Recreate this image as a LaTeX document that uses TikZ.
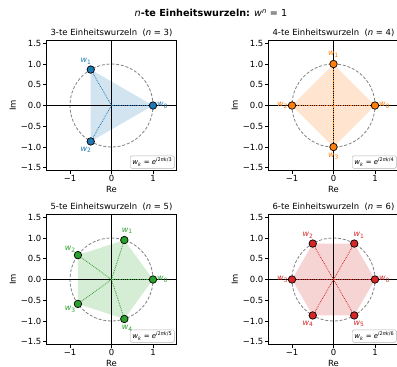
\documentclass[tikz,border=0pt]{standalone}
\usepackage{fontspec}
\setmainfont{DejaVu Sans}
\usepackage{tikz}

\definecolor{tabblue}{HTML}{1F77B4}
\definecolor{taborange}{HTML}{FF7F0E}
\definecolor{tabgreen}{HTML}{2CA02C}
\definecolor{tabred}{HTML}{D62728}
\newcommand{\wl}[1]{\textit{w}\textsubscript{#1}}
\newcommand{\wformel}[1]{\textit{w}\textsubscript{\textit{k}} = \textit{e}\textsuperscript{\textit{i}2\textit{πk}/#1}}

\begin{document}
\begin{tikzpicture}[x=1bp, y=-1bp,
  every node/.style={font=\fontsize{8.5}{10}\selectfont},
  frame/.style={line width=0.8bp, black},
  axisline/.style={line width=1.1bp, black},
  unitcirc/.style={gray, dash pattern=on 3bp off 1.8bp, line width=0.8bp},
  spoke/.style={densely dotted, line width=0.8bp},
  root/.style={circle, draw=black, line width=0.7bp, minimum size=7.5bp, inner sep=0pt},
  wlab/.style={font=\fontsize{8}{9}\selectfont, inner sep=0pt},
  formel/.style={draw=gray!60, fill=white, rounded corners=1.5bp, inner sep=2.2bp,
    anchor=south east, font=\fontsize{7}{8}\selectfont},
  ticklab/.style={inner sep=1.5bp}]
  \useasboundingbox (0,0) rectangle (397,367);
  \node (sup) at (211,13) {\fontsize{9.7}{11}\selectfont\textit{n}\textbf{-te Einheitswurzeln:} \textit{w}\textsuperscript{\textit{n}} = 1};

  % n = 3
  \begin{scope}[shift={(111.5,105.5)}, x=41.5bp, y=41.5bp]
    \fill[tabblue!20] (0:1) -- (120:1) -- (240:1) -- cycle;
    \draw[unitcirc] (0,0) circle (1);
    \draw[axisline] (-1.56,0) -- (1.56,0);
    \draw[axisline] (0,-1.56) -- (0,1.56);
    \coordinate (o3) at (0,0);
    \node[root, fill=tabblue] (p30) at (0:1) {};
    \node[root, fill=tabblue] (p31) at (120:1) {};
    \node[root, fill=tabblue] (p32) at (240:1) {};
    \draw[spoke, tabblue] (o3) -- (p30);
    \draw[spoke, tabblue] (o3) -- (p31);
    \draw[spoke, tabblue] (o3) -- (p32);
    \node[wlab, text=tabblue] (l30) at (0:1.23) {\wl{0}};
    \node[wlab, text=tabblue] (l31) at (120:1.23) {\wl{1}};
    \node[wlab, text=tabblue] (l32) at (240:1.23) {\wl{2}};
    \draw[frame] (-1.56,-1.56) rectangle (1.56,1.56);
    \foreach \t/\s [count=\i] in {-1/−1, 0/0, 1/1}
      \draw[frame] (\t,-1.56) -- ++(0,-3.5bp) node[below, ticklab] (x3-\i) {\s};
    \foreach \t/\s [count=\i] in {-1.5/−1.5, -1/−1.0, -0.5/−0.5, 0/0.0, 0.5/0.5, 1/1.0, 1.5/1.5}
      \draw[frame] (-1.56,\t) -- ++(-3.5bp,0) node[left, ticklab] (y3-\i) {\s};
    \node (re3) at ([yshift=-19bp]0,-1.56) {Re};
    \node[rotate=90] (im3) at ([xshift=-34bp]-1.56,0) {Im};
    \node (t3) at ([yshift=8bp]0,1.56) {3-te Einheitswurzeln\ \ (\textit{n} = 3)};
    \node[formel] (f3) at (1.52,-1.52) {\wformel{3}};
  \end{scope}

  % n = 4
  \begin{scope}[shift={(333.5,105.5)}, x=41.5bp, y=41.5bp]
    \fill[taborange!20] (0:1) -- (90:1) -- (180:1) -- (270:1) -- cycle;
    \draw[unitcirc] (0,0) circle (1);
    \draw[axisline] (-1.56,0) -- (1.56,0);
    \draw[axisline] (0,-1.56) -- (0,1.56);
    \coordinate (o4) at (0,0);
    \node[root, fill=taborange] (p40) at (0:1) {};
    \node[root, fill=taborange] (p41) at (90:1) {};
    \node[root, fill=taborange] (p42) at (180:1) {};
    \node[root, fill=taborange] (p43) at (270:1) {};
    \draw[spoke, taborange] (o4) -- (p40);
    \draw[spoke, taborange] (o4) -- (p41);
    \draw[spoke, taborange] (o4) -- (p42);
    \draw[spoke, taborange] (o4) -- (p43);
    \node[wlab, text=taborange] (l40) at (0:1.23) {\wl{0}};
    \node[wlab, text=taborange] (l41) at (90:1.23) {\wl{1}};
    \node[wlab, text=taborange] (l42) at (180:1.23) {\wl{2}};
    \node[wlab, text=taborange] (l43) at (270:1.23) {\wl{3}};
    \draw[frame] (-1.56,-1.56) rectangle (1.56,1.56);
    \foreach \t/\s [count=\i] in {-1/−1, 0/0, 1/1}
      \draw[frame] (\t,-1.56) -- ++(0,-3.5bp) node[below, ticklab] (x4-\i) {\s};
    \foreach \t/\s [count=\i] in {-1.5/−1.5, -1/−1.0, -0.5/−0.5, 0/0.0, 0.5/0.5, 1/1.0, 1.5/1.5}
      \draw[frame] (-1.56,\t) -- ++(-3.5bp,0) node[left, ticklab] (y4-\i) {\s};
    \node (re4) at ([yshift=-19bp]0,-1.56) {Re};
    \node[rotate=90] (im4) at ([xshift=-34bp]-1.56,0) {Im};
    \node (t4) at ([yshift=8bp]0,1.56) {4-te Einheitswurzeln\ \ (\textit{n} = 4)};
    \node[formel] (f4) at (1.52,-1.52) {\wformel{4}};
  \end{scope}

  % n = 5
  \begin{scope}[shift={(111.5,279.5)}, x=41.5bp, y=41.5bp]
    \fill[tabgreen!20] (0:1) -- (72:1) -- (144:1) -- (216:1) -- (288:1) -- cycle;
    \draw[unitcirc] (0,0) circle (1);
    \draw[axisline] (-1.56,0) -- (1.56,0);
    \draw[axisline] (0,-1.56) -- (0,1.56);
    \coordinate (o5) at (0,0);
    \node[root, fill=tabgreen] (p50) at (0:1) {};
    \node[root, fill=tabgreen] (p51) at (72:1) {};
    \node[root, fill=tabgreen] (p52) at (144:1) {};
    \node[root, fill=tabgreen] (p53) at (216:1) {};
    \node[root, fill=tabgreen] (p54) at (288:1) {};
    \draw[spoke, tabgreen] (o5) -- (p50);
    \draw[spoke, tabgreen] (o5) -- (p51);
    \draw[spoke, tabgreen] (o5) -- (p52);
    \draw[spoke, tabgreen] (o5) -- (p53);
    \draw[spoke, tabgreen] (o5) -- (p54);
    \node[wlab, text=tabgreen] (l50) at (0:1.23) {\wl{0}};
    \node[wlab, text=tabgreen] (l51) at (72:1.23) {\wl{1}};
    \node[wlab, text=tabgreen] (l52) at (144:1.23) {\wl{2}};
    \node[wlab, text=tabgreen] (l53) at (216:1.23) {\wl{3}};
    \node[wlab, text=tabgreen] (l54) at (288:1.23) {\wl{4}};
    \draw[frame] (-1.56,-1.56) rectangle (1.56,1.56);
    \foreach \t/\s [count=\i] in {-1/−1, 0/0, 1/1}
      \draw[frame] (\t,-1.56) -- ++(0,-3.5bp) node[below, ticklab] (x5-\i) {\s};
    \foreach \t/\s [count=\i] in {-1.5/−1.5, -1/−1.0, -0.5/−0.5, 0/0.0, 0.5/0.5, 1/1.0, 1.5/1.5}
      \draw[frame] (-1.56,\t) -- ++(-3.5bp,0) node[left, ticklab] (y5-\i) {\s};
    \node (re5) at ([yshift=-19bp]0,-1.56) {Re};
    \node[rotate=90] (im5) at ([xshift=-34bp]-1.56,0) {Im};
    \node (t5) at ([yshift=8bp]0,1.56) {5-te Einheitswurzeln\ \ (\textit{n} = 5)};
    \node[formel] (f5) at (1.52,-1.52) {\wformel{5}};
  \end{scope}

  % n = 6
  \begin{scope}[shift={(333.5,279.5)}, x=41.5bp, y=41.5bp]
    \fill[tabred!20] (0:1) -- (60:1) -- (120:1) -- (180:1) -- (240:1) -- (300:1) -- cycle;
    \draw[unitcirc] (0,0) circle (1);
    \draw[axisline] (-1.56,0) -- (1.56,0);
    \draw[axisline] (0,-1.56) -- (0,1.56);
    \coordinate (o6) at (0,0);
    \node[root, fill=tabred] (p60) at (0:1) {};
    \node[root, fill=tabred] (p61) at (60:1) {};
    \node[root, fill=tabred] (p62) at (120:1) {};
    \node[root, fill=tabred] (p63) at (180:1) {};
    \node[root, fill=tabred] (p64) at (240:1) {};
    \node[root, fill=tabred] (p65) at (300:1) {};
    \draw[spoke, tabred] (o6) -- (p60);
    \draw[spoke, tabred] (o6) -- (p61);
    \draw[spoke, tabred] (o6) -- (p62);
    \draw[spoke, tabred] (o6) -- (p63);
    \draw[spoke, tabred] (o6) -- (p64);
    \draw[spoke, tabred] (o6) -- (p65);
    \node[wlab, text=tabred] (l60) at (0:1.23) {\wl{0}};
    \node[wlab, text=tabred] (l61) at (60:1.23) {\wl{1}};
    \node[wlab, text=tabred] (l62) at (120:1.23) {\wl{2}};
    \node[wlab, text=tabred] (l63) at (180:1.23) {\wl{3}};
    \node[wlab, text=tabred] (l64) at (240:1.23) {\wl{4}};
    \node[wlab, text=tabred] (l65) at (300:1.23) {\wl{5}};
    \draw[frame] (-1.56,-1.56) rectangle (1.56,1.56);
    \foreach \t/\s [count=\i] in {-1/−1, 0/0, 1/1}
      \draw[frame] (\t,-1.56) -- ++(0,-3.5bp) node[below, ticklab] (x6-\i) {\s};
    \foreach \t/\s [count=\i] in {-1.5/−1.5, -1/−1.0, -0.5/−0.5, 0/0.0, 0.5/0.5, 1/1.0, 1.5/1.5}
      \draw[frame] (-1.56,\t) -- ++(-3.5bp,0) node[left, ticklab] (y6-\i) {\s};
    \node (re6) at ([yshift=-19bp]0,-1.56) {Re};
    \node[rotate=90] (im6) at ([xshift=-34bp]-1.56,0) {Im};
    \node (t6) at ([yshift=8bp]0,1.56) {6-te Einheitswurzeln\ \ (\textit{n} = 6)};
    \node[formel] (f6) at (1.52,-1.52) {\wformel{6}};
  \end{scope}
\end{tikzpicture}
\end{document}
